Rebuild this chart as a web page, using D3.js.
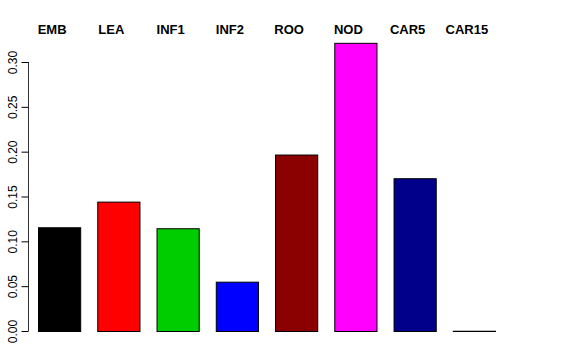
<!DOCTYPE html>
<html>
<head>
<meta charset="utf-8">
<script src="https://cdn.jsdelivr.net/npm/d3@7"></script>
<style>
  body { margin: 0; background: #fff; }
  svg { display: block; font-family: "Liberation Sans", Arial, sans-serif; }
</style>
</head>
<body>
<div id="chart"></div>
<script>
let svg_width = 576
let svg_height = 360

// values
let categories = ["EMB", "LEA", "INF1", "INF2", "ROO", "NOD", "CAR5", "CAR15"]
let values = [0.1157, 0.1443, 0.1146, 0.0550, 0.1968, 0.3214, 0.1704, 0.0003]
let colors = ["#000000", "#FF0000", "#00CD00", "#0000FF", "#8B0000", "#FF00FF", "#00008B", "#BEBEBE"]
let tickValues = [0, 0.05, 0.10, 0.15, 0.20, 0.25, 0.30]

let svg = d3.select("#chart")
    .append("svg")
    .attr("width", svg_width)
    .attr("height", svg_height)

let x = d3.scaleBand()
    .domain(categories)
    .range([38, 495])
    .paddingInner(0.288)
    .paddingOuter(0)

let y = d3.scaleLinear()
    .domain([0, 0.3])
    .range([331, 62])

// bars
svg.selectAll("rect.bar")
    .data(categories)
    .enter()
    .append("rect")
    .attr("class", "bar")
    .attr("x", d => x(d) + 0.5)
    .attr("y", (d, i) => y(values[i]) + 0.5)
    .attr("width", x.bandwidth())
    .attr("height", (d, i) => Math.max(0, y(0) - y(values[i])))
    .attr("fill", (d, i) => colors[i])
    .attr("stroke", "#000")
    .attr("stroke-width", 1)

// y axis, R style
let yAxis = d3.axisLeft(y)
    .tickValues(tickValues)
    .tickSize(7)
    .tickFormat(d3.format(".2f"))

let gy = svg.append("g")
    .attr("transform", "translate(28.5,0)")
    .call(yAxis)

gy.select(".domain")
    .attr("d", `M0,${y(0)}V${y(0.3)}`)
    .attr("stroke", "#333")
gy.selectAll(".tick line").attr("stroke", "#000")

// rotated tick labels
gy.selectAll(".tick text")
    .attr("x", 0)
    .attr("y", 0)
    .attr("dy", null)
    .attr("transform", "translate(-12,0) rotate(-90)")
    .attr("font-size", 12)
    .attr("fill", "#000")
    .style("text-anchor", "middle")

// category labels on top
svg.selectAll("text.cat")
    .data(categories)
    .enter()
    .append("text")
    .attr("class", "cat")
    .attr("x", d => x(d) + x.bandwidth() / 2 - 7)
    .attr("y", 34)
    .style("text-anchor", "middle")
    .style("font-weight", "bold")
    .style("font-size", "13px")
    .text(d => d)
</script>
</body>
</html>
